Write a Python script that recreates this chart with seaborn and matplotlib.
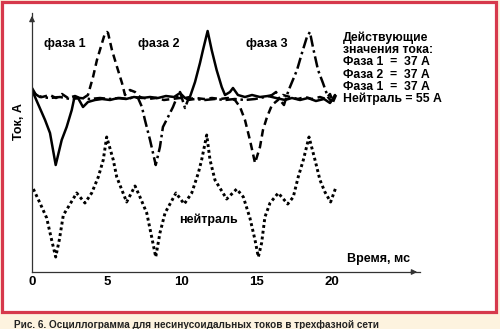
import numpy as np
import pandas as pd
import seaborn as sns
import matplotlib.pyplot as plt
from matplotlib.patches import Rectangle

# Oscillogram samples: time in ms, current in display units (neutral is drawn offset below)
t_ph1 = [0.00, 0.20, 0.87, 1.20, 1.58, 1.98, 2.31, 2.65, 2.82, 3.07, 3.40, 3.73, 4.20, 4.67,
         5.20, 5.73, 6.27, 6.80, 7.33, 7.87, 8.40, 8.93, 9.47, 9.87, 10.20, 10.53, 10.87,
         11.20, 11.40, 11.71, 11.98, 12.31, 12.65, 12.87, 13.20, 13.40, 13.73, 14.20, 14.67,
         15.20, 15.73, 16.27, 16.87, 17.33, 17.87, 18.40, 18.93, 19.47, 19.87, 20.20]
i_ph1 = [7, 0, -23, -36, -68, -43, -30, -13, -1, -1, -10, -5, -3, -2,
         -3, -1, -2, 0, -1, 0, -1, 1, 0, 4, -1, 0, 15,
         34, 47, 66, 47, 27, 10, 2, 5, 9, 2, 0, 2,
         0, 1, -1, -3, -1, -3, -1, -4, -2, -6, 2]

t_ph2 = [0.00, 0.27, 0.67, 1.20, 1.60, 2.00, 2.40, 2.87, 3.33, 3.73, 4.07, 4.33, 4.67, 4.87,
         5.00, 5.07, 5.33, 5.67, 6.00, 6.20, 6.53, 6.87, 7.20, 7.73, 8.27, 8.80, 9.33, 9.87,
         10.40, 10.93, 11.47, 12.00, 12.53, 13.07, 13.53, 13.87, 14.20, 14.53, 14.87, 15.20,
         15.40, 15.67, 16.00, 16.40, 16.73, 17.20, 17.73, 18.20, 18.67, 19.20, 19.60, 19.87,
         20.07, 20.27]
i_ph2 = [9, 2, 0, 2, -1, 3, -1, 1, -2, 2, 20, 37, 54, 64,
         65, 64, 47, 30, 14, 2, 7, 5, 0, -2, -1, -3, -2, -1,
         -2, -1, -2, -1, -2, -1, -3, -10, -23, -43, -66, -50,
         -33, -20, -8, -3, 2, 0, -2, 0, -2, 0, -2, 3,
         -5, 2]

t_ph3 = [0.00, 0.53, 1.20, 1.87, 2.53, 3.20, 3.87, 4.53, 5.20, 5.87, 6.40, 6.80, 7.07, 7.33,
         7.53, 7.87, 8.25, 8.53, 8.73, 9.07, 9.40, 9.67, 9.87, 10.20, 10.40, 10.87, 11.53,
         12.20, 12.87, 13.53, 14.20, 14.87, 15.53, 16.00, 16.27, 16.53, 16.80, 17.00, 17.20,
         17.67, 18.00, 18.33, 18.53, 18.73, 19.07, 19.40, 19.73, 20.00]
i_ph3 = [5, 0, -1, 0, -2, -1, -2, -1, -2, -1, -2, 0, -1, -10,
         -23, -43, -68, -50, -30, -20, -10, 0, 5, -11, -3, -2, -3,
         -2, -3, -2, -3, -2, 0, 2, 5, -3, -8, 2, 10,
         27, 44, 60, 65, 50, 27, 14, 0, -5]

t_neu = [0.09, 0.53, 0.98, 1.31, 1.58, 1.82, 2.09, 2.42, 2.98, 3.53, 3.98, 4.42, 4.75, 4.98,
         5.23, 5.42, 5.65, 6.31, 6.87, 7.20, 7.65, 7.98, 8.25, 8.53, 8.87, 9.60, 10.15, 10.65,
         11.09, 11.31, 11.65, 11.87, 12.20, 12.98, 13.65, 14.09, 14.53, 14.87, 15.09, 15.31,
         15.53, 15.87, 16.42, 17.05, 17.42, 17.75, 18.09, 18.47, 18.87, 19.20, 19.53, 19.91,
         20.27]
i_neu = [-92, -106, -121, -143, -160, -143, -118, -110, -96, -106, -96, -80, -63, -40,
         -53, -63, -80, -105, -89, -100, -116, -140, -160, -136, -116, -96, -107, -96,
         -76, -63, -38, -63, -83, -102, -92, -100, -121, -143, -160, -146,
         -120, -106, -96, -107, -100, -80, -63, -40, -63, -83, -95, -105,
         -90]

series_names = ["фаза 1", "фаза 2", "фаза 3", "нейтраль"]
rms_lines = ["Действующие", "значения тока:", "Фаза 1  =  37 А", "Фаза 2  =  37 А",
             "Фаза 1  =  37 А", "Нейтраль = 55 А"]
x_ticks = [0, 5, 10, 15, 20]
caption = "Рис. 6. Осциллограмма для несинусоидальных токов в трехфазной сети"

frames = []
for name, tt, ii in zip(series_names, [t_ph1, t_ph2, t_ph3, t_neu], [i_ph1, i_ph2, i_ph3, i_neu]):
    frames.append(pd.DataFrame({"t": tt, "i": ii, "series": name}))
df = pd.concat(frames, ignore_index=True)

sns.set_style("white")
plt.rcParams["font.family"] = ["Liberation Sans", "DejaVu Sans"]

W, H = 500, 329
fig = plt.figure(figsize=(W / 100, H / 100), dpi=100, facecolor="#fdf3df")

def fx(px):
    return px / W

def fy(py):
    return 1 - py / H

# white panel with red border, kept behind the axes
fig.patches.append(Rectangle((fx(1.5), fy(311.5)), 494 / W, 310 / H, transform=fig.transFigure,
                             facecolor="white", edgecolor="#d6394c", lw=2.3, zorder=-5))

ax = fig.add_axes([fx(32), fy(272), (420 - 32) / W, (272 - 13) / H])
ax.set_facecolor("none")
ax.set_zorder(2)

dash_map = {"фаза 1": "", "фаза 2": (3, 1.8), "фаза 3": (4.5, 1.5, 1, 1.5), "нейтраль": (1, 1.0)}
sns.lineplot(data=df, x="t", y="i", style="series", units="series", estimator=None, sort=False,
             dashes=dash_map, color="black", lw=1.8, legend=False, ax=ax)
for ln in ax.get_lines():
    ln.set_dash_capstyle("butt")
    ln.set_solid_joinstyle("round")
ax.get_lines()[3].set_linewidth(2.1)

ax.set_xlim(0, 25.87)
ax.set_ylim(-175, 84)
ax.set_xticks(x_ticks)
ax.set_xticklabels([str(v) for v in x_ticks], fontsize=9.5, fontweight="bold")
ax.set_yticks([])
ax.tick_params(axis="x", direction="in", length=5, width=0.9, pad=3, colors="black")
for side in ("top", "right"):
    ax.spines[side].set_visible(False)
for side in ("left", "bottom"):
    ax.spines[side].set_color("#333333")
    ax.spines[side].set_linewidth(0.9)
ax.set_xlabel("")
ax.set_ylabel("")

# axis arrow heads
ax.annotate("", xy=(1.0, 0), xytext=(0.97, 0), xycoords="axes fraction",
            arrowprops=dict(arrowstyle="-|>", mutation_scale=8, color="#333333", lw=0.9),
            annotation_clip=False)
ax.annotate("", xy=(0, 1.0), xytext=(0, 0.96), xycoords="axes fraction",
            arrowprops=dict(arrowstyle="-|>", mutation_scale=8, color="#333333", lw=0.9),
            annotation_clip=False)

txt = dict(fontweight="bold", color="black", va="center")
fig.text(fx(65), fy(44), "фаза 1", ha="center", fontsize=9, **txt)
fig.text(fx(159), fy(44), "фаза 2", ha="center", fontsize=9, **txt)
fig.text(fx(267), fy(44), "фаза 3", ha="center", fontsize=9, **txt)
fig.text(fx(208), fy(220), "нейтраль", ha="center", fontsize=9, **txt)
fig.text(fx(379), fy(259), "Время, мс", ha="center", fontsize=9, **txt)
fig.text(fx(19), fy(122), "Ток, А", ha="center", rotation=90, fontsize=9, **txt)

for k, line in enumerate(rms_lines):
    fig.text(fx(343), fy(38 + 12.2 * k), line, ha="left", fontsize=8.8, **txt)

fig.text(fx(14), fy(325), caption, ha="left", va="center", fontsize=7.2,
         fontweight="bold", color="#222222")

fig.savefig("out.png", dpi=100, facecolor=fig.get_facecolor())
